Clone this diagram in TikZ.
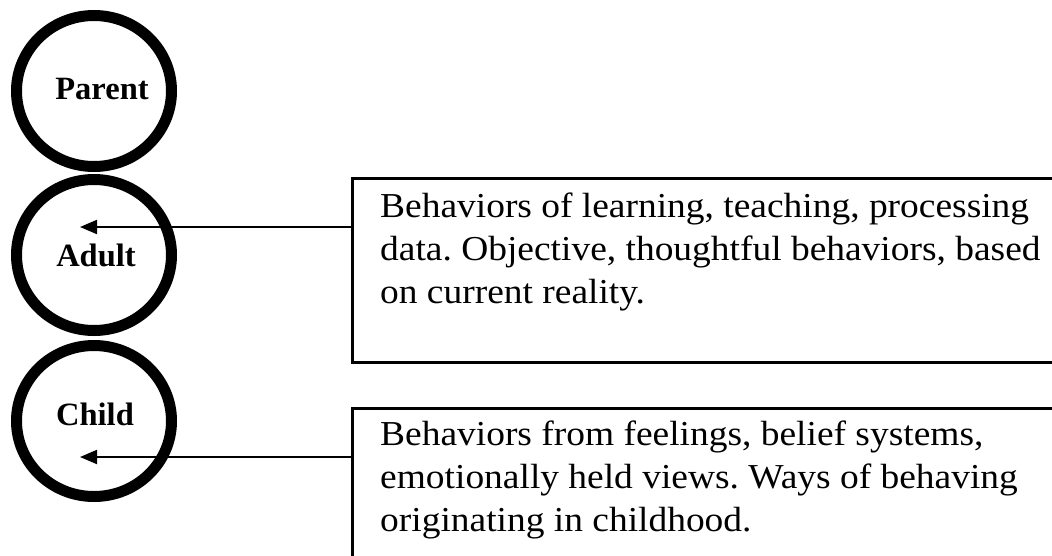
\documentclass[tikz,border=0pt]{standalone}
\usepackage{fontspec}
\newfontfamily\bodyfont{Liberation Serif}[FakeStretch=1.07]
\newfontfamily\lblfont{Liberation Serif}
\usetikzlibrary{arrows.meta,shapes.geometric}
\frenchspacing
\begin{document}
\begin{tikzpicture}[x=1pt,y=-1pt,
  ring/.style={draw, ellipse, line width=11pt, minimum width=155pt, minimum height=151pt, inner sep=0pt},
  lbl/.style={font=\lblfont\bfseries\fontsize{32.5}{36}\selectfont, inner sep=0pt},
  infobox/.style={draw, line width=3pt, rectangle, inner sep=0pt},
  body/.style={font=\bodyfont\fontsize{35}{43}\selectfont\frenchspacing, align=left, inner sep=0pt, anchor=north west},
  arr/.style={line width=2pt, -{Triangle[length=17pt,width=14pt]}}]
\useasboundingbox (0,0) rectangle (1052,555);
% rings
\node[ring] (parent) at (94,91) {};
\node[ring] (adult) at (94,255) {};
\node[ring] (child) at (94,421) {};
% labels
\node[lbl] (lp) at (102,89) {Parent};
\node[lbl] (la) at (96,255) {Adult};
\node[lbl] (lc) at (95,414) {Child};
% boxes
\node[infobox, minimum width=708pt, minimum height=184pt] (box1) at (706,270) {};
\node[infobox, minimum width=708pt, minimum height=157pt] (box2) at (706,486.5) {};
% texts
\node[body] (t1) at (380,187) {\strut Behaviors of learning, teaching, processing\\data. Objective, thoughtful behaviors, based\\on current reality.};
\node[body] (t2) at (380,415) {\strut Behaviors from feelings, belief systems,\\emotionally held views. Ways of behaving\\originating in childhood.};
% arrows
\coordinate (atip) at (80,227);
\coordinate (ctip) at (80,457);
\draw[arr] (box1.west |- atip) -- (atip);
\draw[arr] (box2.west |- ctip) -- (ctip);
\end{tikzpicture}
\end{document}
